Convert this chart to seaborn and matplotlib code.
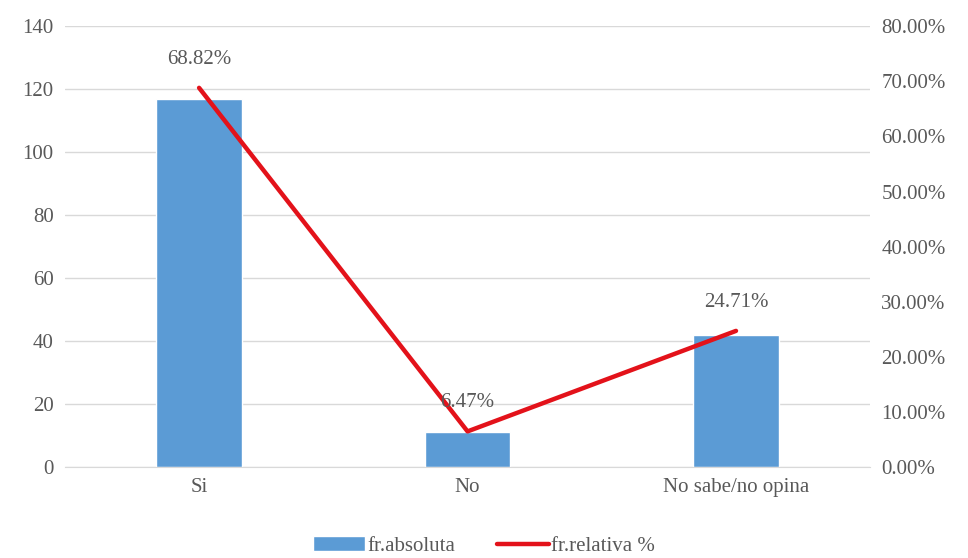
import numpy as np
import pandas as pd
import matplotlib.pyplot as plt
import seaborn as sns
from matplotlib.ticker import FuncFormatter

# datos
categorias = ['Si', 'No', 'No sabe/no opina']
fr_absoluta = [117, 11, 42]
fr_relativa = [68.82, 6.47, 24.71]

df = pd.DataFrame({'cat': categorias, 'abs': fr_absoluta, 'rel': fr_relativa})

sns.set_style('white')
plt.rcParams['font.family'] = ['Liberation Serif', 'DejaVu Serif']
gris = '#595959'
fs = 15

fig = plt.figure(figsize=(9.68, 5.58), dpi=100)
ax = fig.add_axes([0.067, 0.163, 0.832, 0.79])

sns.barplot(data=df, x='cat', y='abs', color='#5B9BD5', width=0.32,
            saturation=1, ax=ax, label='fr.absoluta', zorder=2)
ax.set_ylim(0, 140)
ax.set_yticks(range(0, 141, 20))
ax.grid(axis='y', color='#D9D9D9', lw=1, zorder=0)
ax.set_xlabel('')
ax.set_ylabel('')
for s in ['top', 'right', 'left']:
    ax.spines[s].set_visible(False)
ax.spines['bottom'].set_color('#D9D9D9')
ax.tick_params(axis='both', colors=gris, labelsize=fs, length=0, pad=8)
ax.set_xlim(-0.5, 2.5)

ax2 = ax.twinx()
sns.lineplot(x=np.arange(len(categorias)), y=fr_relativa, color='#E3121A',
             lw=3.2, ax=ax2, label='fr.relativa %')
ax2.set_ylim(0, 80)
ax2.set_yticks(range(0, 81, 10))
ax2.yaxis.set_major_formatter(FuncFormatter(lambda v, p: f'{v:.2f}%'))
ax2.tick_params(axis='y', colors=gris, labelsize=fs, length=0, pad=8)
for s in ax2.spines.values():
    s.set_visible(False)
ax2.set_xlim(-0.5, 2.5)

for i, v in enumerate(fr_relativa):
    ax2.text(i, v + 3.5, f'{v:.2f}%', ha='center', va='bottom', color=gris, fontsize=fs)

h1, l1 = ax.get_legend_handles_labels()
h2, l2 = ax2.get_legend_handles_labels()
for a in (ax, ax2):
    if a.get_legend():
        a.get_legend().remove()
fig.legend(h1 + h2, l1 + l2, loc='lower center', ncol=2, frameon=False,
           bbox_to_anchor=(0.5, -0.03), fontsize=fs, labelcolor=gris,
           handlelength=2.5, handletextpad=0.1, columnspacing=2.0)

fig.savefig('out.png', dpi=100)
